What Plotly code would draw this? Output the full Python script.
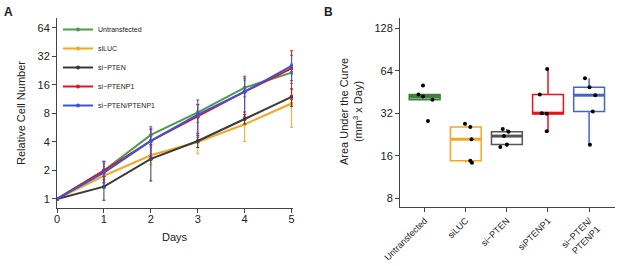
import numpy as np
import plotly.graph_objects as go

# ---------------- Panel A data ----------------
days = [0, 1, 2, 3, 4, 5]
series_names = ["Untransfected", "siLUC", "si−PTEN", "si−PTENP1", "si−PTEN/PTENP1"]
untrans = [1, 2.0, 4.75, 8.2, 15.0, 21.6]
untrans_err = [0, 0.4, 1.1, 1.8, 3.0, 5.0]
siluc = [1, 1.76, 2.9, 4.0, 6.15, 10.2]
siluc_err = [0, 0.3, 0.6, 1.0, 2.1, 4.5]
sipten = [1, 1.35, 2.65, 4.1, 7.0, 12.0]
sipten_err = [0, 0.38, 1.1, 0.6, 0.8, 2.5]
siptenp1 = [1, 2.0, 4.1, 7.4, 13.6, 24.0]
siptenp1_err = [0, 0.5, 1.3, 2.5, 6.2, 12.8]
sidouble = [1, 1.9, 4.1, 7.8, 13.6, 25.4]
sidouble_err = [0, 0.6, 1.5, 3.3, 5.3, 7.6]
a_yticks = [1, 2, 4, 8, 16, 32, 64]

# ---------------- Panel B data ----------------
groups = ["Untransfected", "siLUC", "si−PTEN", "siPTENP1", "si−PTEN/<br>PTENP1"]
auc_untrans = [50.3, 43.5, 42.1, 40.0, 28.2]
auc_siluc = [27.0, 25.6, 21.0, 14.8, 14.3]
auc_sipten = [24.8, 23.7, 22.1, 19.3, 18.5]
auc_siptenp1 = [66.0, 43.5, 32.1, 31.8, 23.9]
auc_sidouble = [56.7, 49.0, 43.0, 33.0, 19.2]
jit_untrans = [-0.04, -0.15, -0.04, 0.19, 0.08]
jit_siluc = [-0.02, 0.11, 0.14, 0.11, 0.15]
jit_sipten = [-0.10, 0.04, -0.07, 0.0, -0.16]
jit_siptenp1 = [-0.02, -0.20, -0.15, -0.03, -0.03]
jit_sidouble = [-0.10, 0.01, 0.15, 0.09, 0.02]
b_yticks = [8, 16, 32, 64, 128]

line_colors = ["#4f9a4f", "#f5a623", "#3a3a3a", "#e0161e", "#3c55d4"]
box_lines = ["#3f7f3f", "#f5a623", "#555555", "#e8141c", "#4664c8"]
box_fills = ["rgba(90,160,90,0.8)", "white", "white", "white", "white"]

FONT = "Liberation Sans, Arial, sans-serif"
fig = go.Figure()

a_series = [(untrans, untrans_err), (siluc, siluc_err), (sipten, sipten_err),
            (siptenp1, siptenp1_err), (sidouble, sidouble_err)]
for name, (vals, errs), col in zip(series_names, a_series, line_colors):
    fig.add_trace(go.Scatter(
        x=days, y=vals, name=name, mode="lines+markers",
        line=dict(color=col, width=2), marker=dict(color=col, size=4),
        error_y=dict(type="data", array=errs, visible=True, color=col,
                     thickness=1, width=1.5),
        xaxis="x", yaxis="y", showlegend=True))

b_sets = [(auc_untrans, jit_untrans), (auc_siluc, jit_siluc), (auc_sipten, jit_sipten),
          (auc_siptenp1, jit_siptenp1), (auc_sidouble, jit_sidouble)]
box_w = 0.75
for i, ((vals, jit), lc, fc) in enumerate(zip(b_sets, box_lines, box_fills)):
    lv = np.log2(np.array(vals))
    q1, med, q3 = np.percentile(lv, [25, 50, 75])
    iqr = q3 - q1
    lf = lv[lv >= q1 - 1.5 * iqr].min()
    uf = lv[lv <= q3 + 1.5 * iqr].max()
    fig.add_trace(go.Box(
        x=[i], q1=[2 ** q1], median=[2 ** med], q3=[2 ** q3],
        lowerfence=[2 ** lf], upperfence=[2 ** uf], width=box_w,
        boxpoints=False, fillcolor=fc, line=dict(color=lc, width=1.5),
        whiskerwidth=0, xaxis="x2", yaxis="y2", showlegend=False, name=groups[i]))
    fig.add_trace(go.Scatter(
        x=[i - box_w / 2, i + box_w / 2], y=[2 ** med, 2 ** med], mode="lines",
        line=dict(color=lc, width=3), xaxis="x2", yaxis="y2", showlegend=False,
        hoverinfo="skip"))
    fig.add_trace(go.Scatter(
        x=[i + j for j in jit], y=vals, mode="markers",
        marker=dict(color="black", size=4), xaxis="x2", yaxis="y2",
        showlegend=False))

# body margin is removed by post_script, so the figure fills the window
W = 617
H = 266


def px(x):
    return x / W


def py(y):
    return 1 - y / H


axis_common = dict(showline=True, linecolor="#444", linewidth=1, ticks="outside",
                   ticklen=4, tickcolor="#444", showgrid=False, zeroline=False,
                   automargin=False)

fig.update_layout(
    template="none",
    width=W, height=H, margin=dict(l=0, r=0, t=0, b=0, autoexpand=False),
    paper_bgcolor="white", plot_bgcolor="white",
    font=dict(family=FONT, color="#222"),
    xaxis=dict(domain=[px(57), px(293)], range=[0, 5.03], dtick=1, anchor="y",
               ticklabelstandoff=-3,
               tickfont=dict(size=11, color="#222", family=FONT), **axis_common),
    yaxis=dict(domain=[py(208), py(18)], type="log",
               range=[np.log10(2 ** -0.316), np.log10(2 ** 6.35)], tickvals=a_yticks,
               anchor="x", tickfont=dict(size=11, color="#222", family=FONT),
               title=dict(text="Relative Cell Number", font=dict(size=11)), **axis_common),
    xaxis2=dict(domain=[px(400), px(615)], range=[-0.6, 4.63], tickvals=list(range(5)),
                ticktext=groups, tickangle=-45, anchor="y2",
                tickfont=dict(size=9, color="#222", family=FONT), **axis_common),
    yaxis2=dict(domain=[py(207), py(18)], type="log",
                range=[np.log10(2 ** 2.8), np.log10(2 ** 7.24)], tickvals=b_yticks,
                anchor="x2", tickfont=dict(size=11, color="#222", family=FONT),
                **axis_common),
    legend=dict(x=px(58), y=py(15), xanchor="left", yanchor="top",
                font=dict(size=7, family=FONT), bgcolor="rgba(0,0,0,0)",
                tracegroupgap=0),
    annotations=[
        dict(text="<b>A</b>", x=px(2), y=py(3), xref="paper", yref="paper",
             xanchor="left", yanchor="top", showarrow=False, font=dict(size=12)),
        dict(text="<b>B</b>", x=px(322), y=py(3), xref="paper", yref="paper",
             xanchor="left", yanchor="top", showarrow=False, font=dict(size=12)),
        dict(text="Days", x=px(175), y=py(237), xref="paper", yref="paper",
             xanchor="center", yanchor="middle", showarrow=False, font=dict(size=11)),
        dict(text="Area Under the Curve<br>(mm<sup>3</sup> x Day)", x=px(351), y=py(112),
             xref="paper", yref="paper", xanchor="center", yanchor="middle",
             textangle=-90, showarrow=False, font=dict(size=11)),
    ],
)

fig.write_html("out.html", config={"displayModeBar": False},
               post_script="document.body.style.margin='0';document.body.style.overflow='hidden';")
